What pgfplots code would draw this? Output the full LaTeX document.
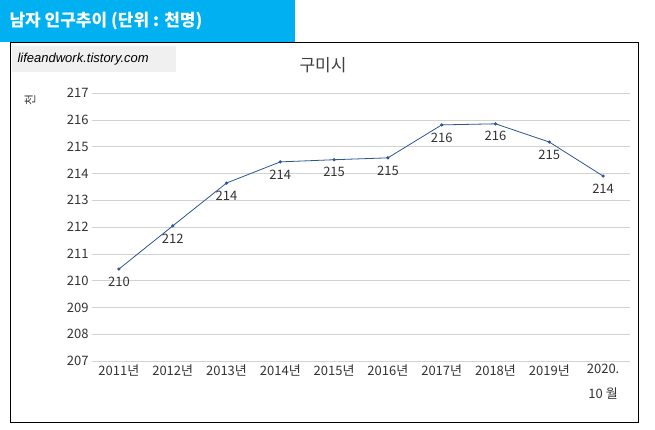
\documentclass[border=0pt]{standalone}
\usepackage{pgfplots}
\pgfplotsset{compat=1.18}
\usepackage{fontspec}
\setmainfont{Noto Sans CJK KR}
\newfontfamily\wm{Liberation Sans}
\definecolor{titlebg}{HTML}{00B0F0}
\definecolor{line}{HTML}{2F5597}
\begin{document}
\begin{tikzpicture}[x=1pt,y=1pt]
\path[fill=white] (0,0) rectangle (655,430);
\fill[titlebg] (0,388) rectangle (295,430);
\node[anchor=west,text=white,font=\fontsize{17}{19}\selectfont\bfseries] at (6,409) {남자 인구추이 (단위 : 천명)};
\draw[black,line width=0.8pt] (10,8) rectangle (638,388);
\fill[gray!12] (12,358) rectangle (176,384);
\node[anchor=west,font=\wm\itshape\fontsize{13}{15}\selectfont] at (14,371) {lifeandwork.tistory.com};
\node[font=\fontsize{17}{19}\selectfont,text=black!75] at (323,365) {구미시};
\node[rotate=90,font=\fontsize{12}{14}\selectfont,text=black!75] at (30,330) {천};
\begin{axis}[at={(92pt,69pt)},anchor=south west,scale only axis,width=538pt,height=268pt,
  xmin=-0.5,xmax=9.5,ymin=207,ymax=217,
  xtick={0,...,9},xticklabels={2011년,2012년,2013년,2014년,2015년,2016년,2017년,2018년,2019년,{2020.\\10 월}},
  xticklabel style={align=center,font=\fontsize{13}{25}\selectfont,text=black!80},
  ytick={207,...,217},
  yticklabel style={font=\fontsize{13}{15}\selectfont,text=black!80},
  /pgf/number format/assume math mode=true,
  ymajorgrids,grid style={gray!35},
  axis line style={draw=none},major tick style={draw=none},
  xtick pos=bottom,
  nodes near coords,point meta=explicit symbolic,
  every node near coord/.style={anchor=north,yshift=-4pt,font=\fontsize{13}{15}\selectfont,text=black!80},
  clip=false]
\draw[gray!35] (axis cs:-0.5,207)--(axis cs:9.5,207);
\addplot[line,line width=0.8pt,mark=*,mark size=1.2pt] table[meta=l] {
x y l
0 210.43 210
1 212.04 212
2 213.64 214
3 214.43 214
4 214.51 215
5 214.58 215
6 215.81 216
7 215.85 216
8 215.17 215
9 213.90 214
};
\end{axis}
\end{tikzpicture}
\end{document}
